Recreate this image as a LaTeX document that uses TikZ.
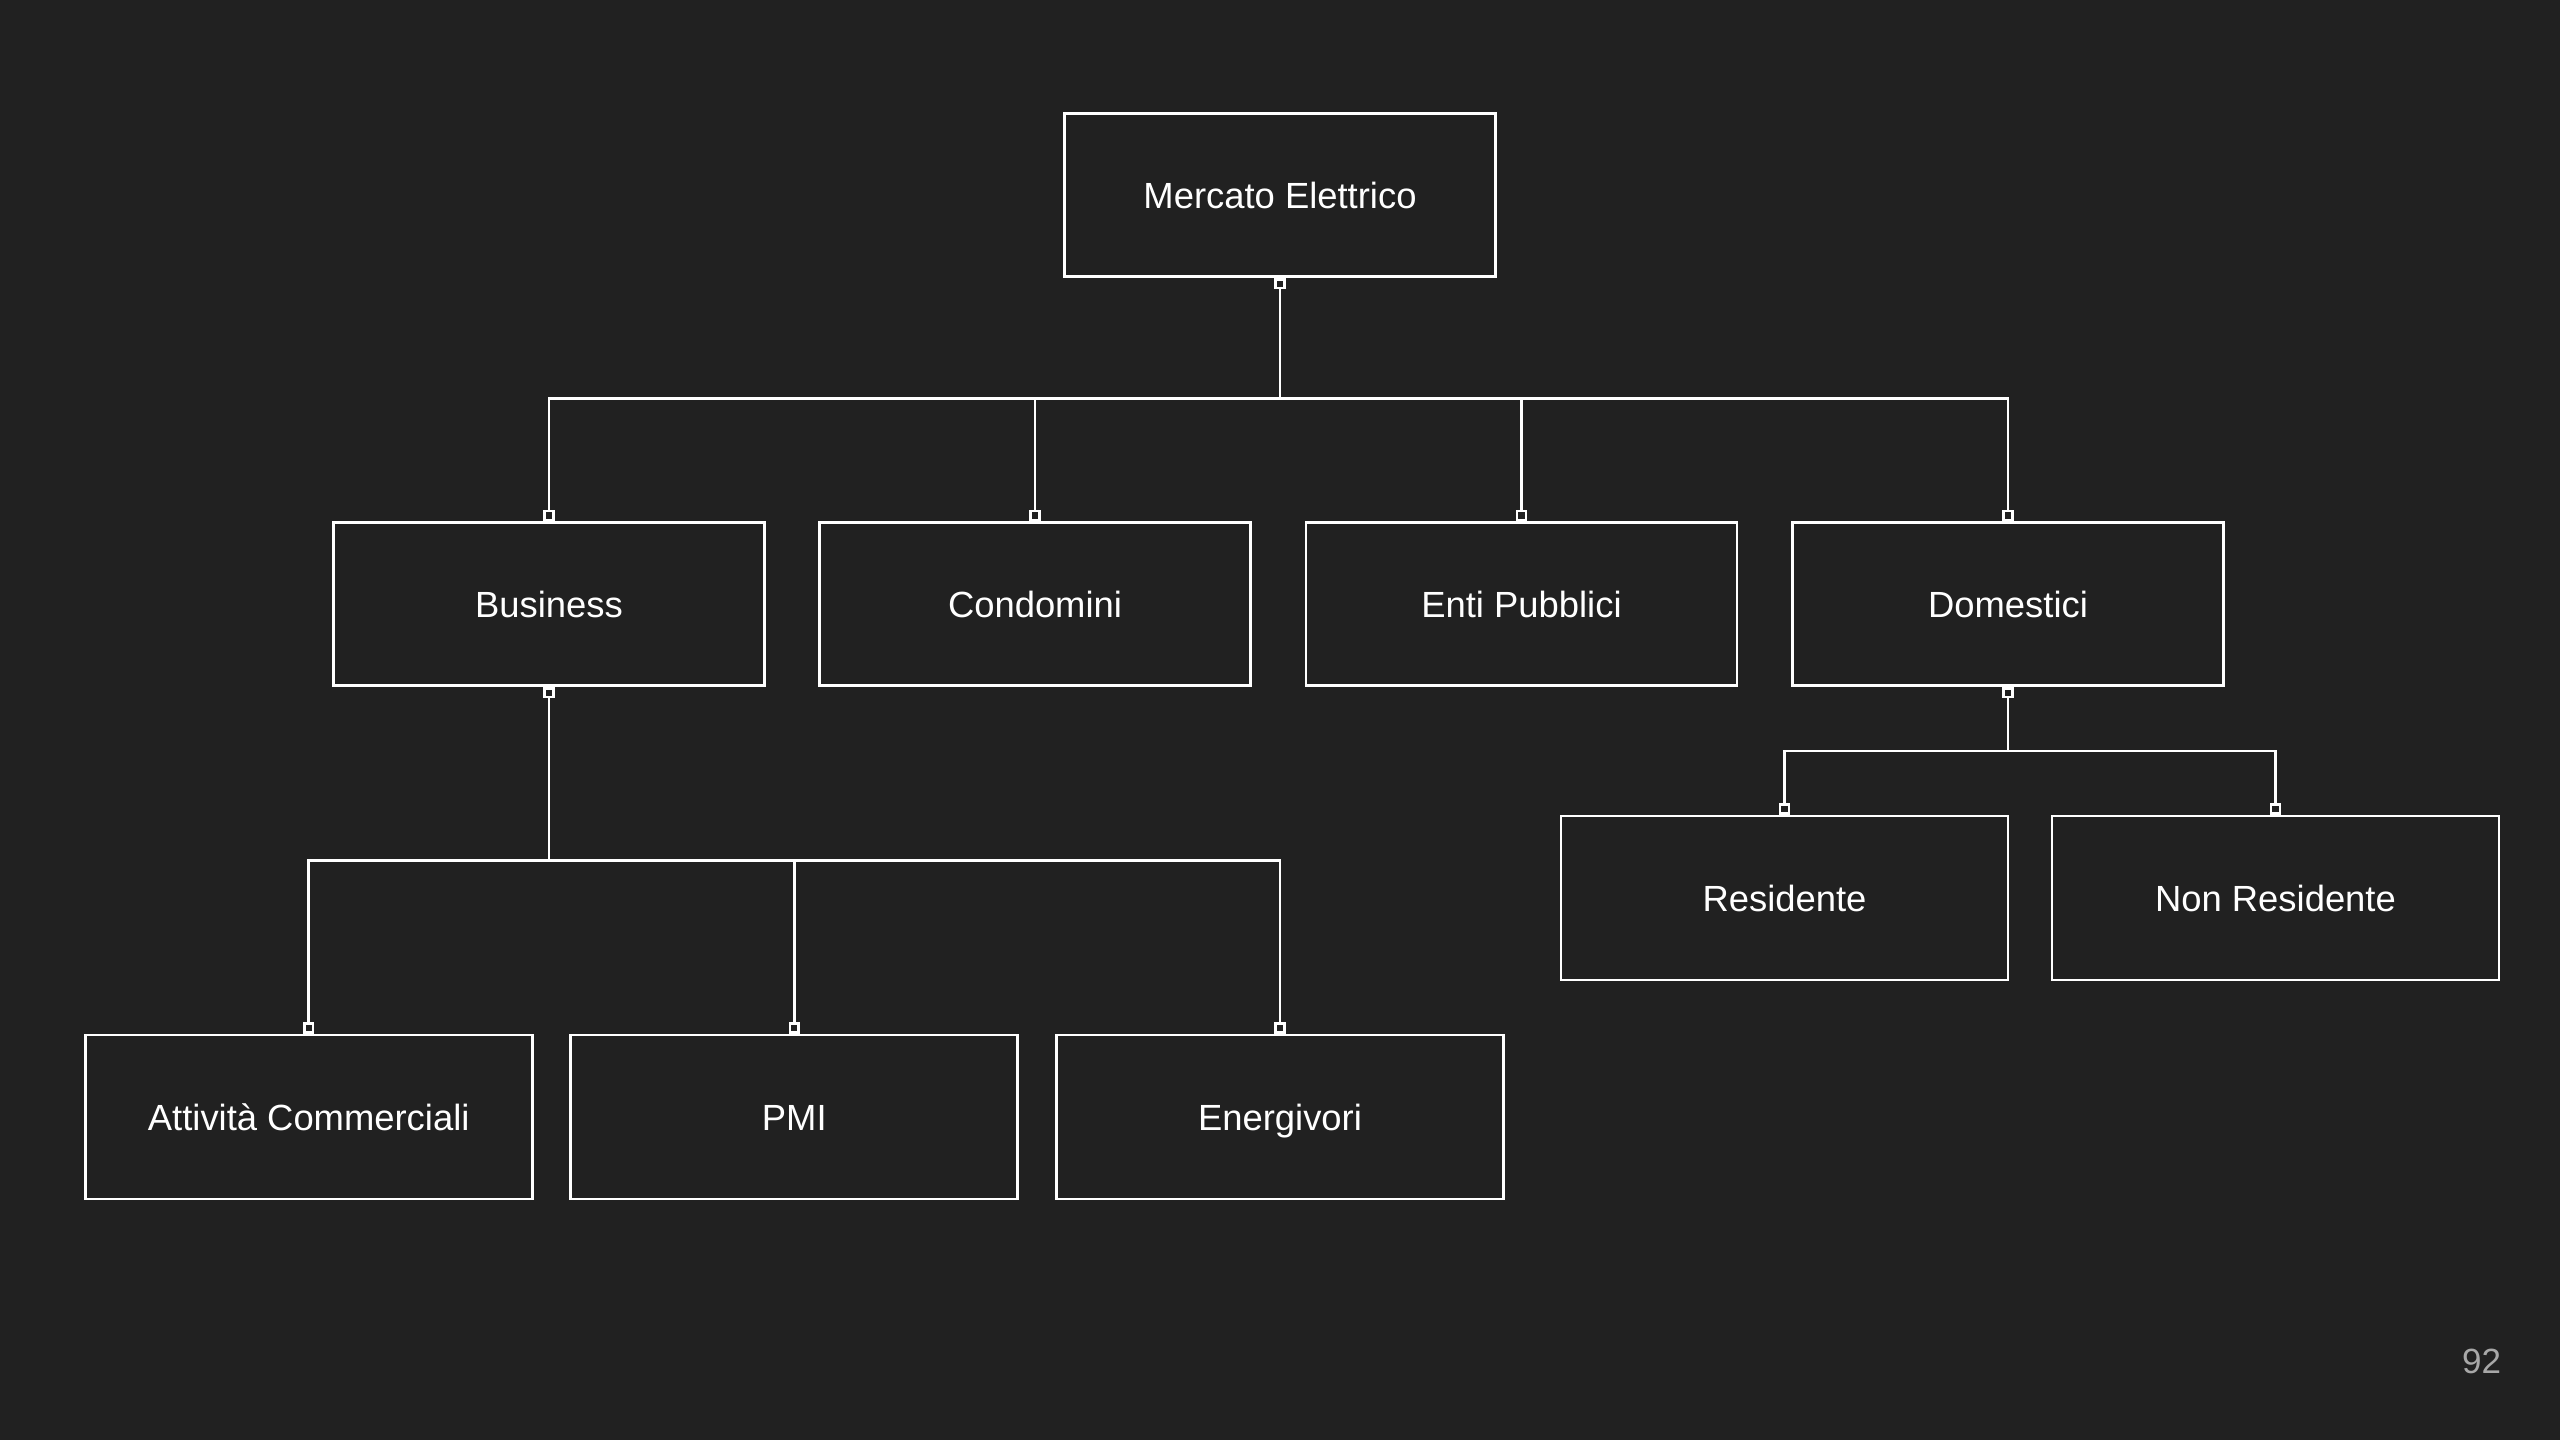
\documentclass[tikz,border=0pt]{standalone}
\usepackage{fontspec}
\setmainfont{Liberation Sans}
\definecolor{bgc}{HTML}{212121}
\definecolor{pgc}{HTML}{A8A8A8}
\begin{document}
\begin{tikzpicture}[x=0.5pt,y=-0.5pt,
  box/.style={draw=white, line width=1.4pt, fill=bgc, inner sep=0pt,
    minimum width=215.5pt, minimum height=81.5pt, text=white,
    font=\fontsize{18.2pt}{22pt}\selectfont, text height=13pt, text depth=0pt},
  wbox/.style={box, minimum width=223.5pt, minimum height=82pt},
  sq/.style={draw=white, fill=bgc, line width=1.3pt, minimum size=4.4pt, inner sep=0pt},
  ln/.style={draw=white, line width=1.4pt}]
\fill[bgc] (0,0) rectangle (2560,1440);
\useasboundingbox (0,0) rectangle (2560,1440);

% nodes
\node[box] (top) at (1280,195) {Mercato Elettrico};
\node[box] (bus) at (549,604) {Business};
\node[box] (con) at (1035,604) {Condomini};
\node[box] (ent) at (1521.5,604) {Enti Pubblici};
\node[box] (dom) at (2008,604) {Domestici};
\node[wbox] (att) at (308.7,1117) {Attività Commerciali};
\node[wbox] (pmi) at (794.3,1117) {PMI};
\node[wbox] (ene) at (1280,1117) {Energivori};
\node[wbox] (res) at (1784.5,898) {Residente};
\node[wbox] (nres) at (2275.5,898) {Non Residente};

% bar levels
\coordinate (barA) at (0,398.5);
\coordinate (barB) at (0,860.5);
\coordinate (barC) at (0,751);

% connectors: top -> row 1
\draw[ln] (top.south) -- (top.south |- barA) -| (bus.north);
\draw[ln] (top.south |- barA) -| (con.north);
\draw[ln] (top.south |- barA) -| (ent.north);
\draw[ln] (top.south |- barA) -| (dom.north);
% business -> children
\draw[ln] (bus.south) -- (bus.south |- barB) -| (att.north);
\draw[ln] (bus.south |- barB) -| (pmi.north);
\draw[ln] (bus.south |- barB) -| (ene.north);
% domestici -> children
\draw[ln] (dom.south) -- (dom.south |- barC) -| (res.north);
\draw[ln] (dom.south |- barC) -| (nres.north);

% connector squares
\node[sq, anchor=north] (topS) at (top.south) {};
\node[sq, anchor=south] (busN) at (bus.north) {};
\node[sq, anchor=south] (conN) at (con.north) {};
\node[sq, anchor=south] (entN) at (ent.north) {};
\node[sq, anchor=south] (domN) at (dom.north) {};
\node[sq, anchor=north] (busS) at (bus.south) {};
\node[sq, anchor=north] (domS) at (dom.south) {};
\node[sq, anchor=south] (attN) at (att.north) {};
\node[sq, anchor=south] (pmiN) at (pmi.north) {};
\node[sq, anchor=south] (eneN) at (ene.north) {};
\node[sq, anchor=south] (resN) at (res.north) {};
\node[sq, anchor=south] (nresN) at (nres.north) {};

% page number
\node[text=pgc, font=\fontsize{17.5pt}{20pt}\selectfont, inner sep=0pt] (pg) at (2481.5,1361) {92};
\end{tikzpicture}
\end{document}
